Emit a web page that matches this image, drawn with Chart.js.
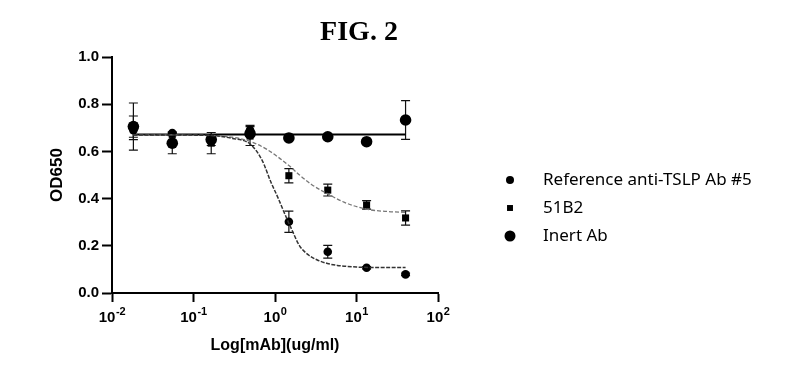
<!DOCTYPE html>
<html lang="en">
<head>
  <meta charset="UTF-8">
  <title>FIG. 2</title>
  <style>
    html, body { margin: 0; padding: 0; background: #fff; }
    .chart-container { position: relative; width: 793px; height: 373px; }
  </style>
</head>
<body>
  <div class="chart-container">
    <canvas id="figChart"></canvas>
  </div>

  <script src="https://cdn.jsdelivr.net/npm/chart.js"></script>
  <script>
    // concentrations (ug/ml), 3-fold dilution
    const concentrations = [0.0183, 0.0549, 0.165, 0.494, 1.48, 4.44, 13.3, 40];

    // measured OD650 means and error bar half-widths
    const refAbMeans  = [0.690, 0.678, 0.645, 0.690, 0.302, 0.175, 0.107, 0.079];
    const refAbErrors = [0.030, 0.005, 0.020, 0.020, 0.045, 0.027, 0.005, 0.005];
    const b51Means    = [0.700, 0.672, 0.635, 0.665, 0.497, 0.436, 0.373, 0.318];
    const b51Errors   = [0.050, 0.005, 0.045, 0.040, 0.030, 0.025, 0.018, 0.030];
    const inertMeans  = [0.705, 0.635, 0.650, 0.675, 0.657, 0.662, 0.641, 0.733];
    const inertErrors = [0.100, 0.045, 0.010, 0.010, 0.005, 0.005, 0.010, 0.082];

    // fitted curves
    const refFitX = [0.0183, 0.1, 0.2, 0.3, 0.5, 0.7, 0.89, 1.1, 1.3, 1.6, 2.0, 2.6, 3.3, 4.4, 5.8, 10, 20, 40];
    const refFitY = [0.670, 0.669, 0.665, 0.655, 0.630, 0.560, 0.470, 0.400, 0.340, 0.270, 0.200, 0.160, 0.140, 0.125, 0.117, 0.110, 0.108, 0.108];
    const b51FitX = [0.0183, 0.1, 0.3, 0.5, 0.8, 1.1, 1.48, 2.0, 2.8, 4.44, 7, 13.3, 25, 40];
    const b51FitY = [0.670, 0.669, 0.660, 0.642, 0.608, 0.575, 0.540, 0.500, 0.460, 0.420, 0.385, 0.355, 0.345, 0.342];
    const inertFitX = [0.0183, 40];
    const inertFitY = [0.672, 0.672];

    const xTicks = [0.01, 0.1, 1, 10, 100];
    const xTickExponents = ['-2', '-1', '0', '1', '2'];

    const legendLabels = ['Reference anti-TSLP Ab #5', '51B2', 'Inert Ab'];

    const toPoints = (xs, ys) => xs.map((x, i) => ({ x: x, y: ys[i] }));
    const axisFont = '"Liberation Sans", Arial, sans-serif';

    // error bars drawn through the chart scales
    const errorBarPlugin = {
      id: 'errorBars',
      beforeDatasetsDraw(chart) {
        const ctx = chart.ctx;
        const xs = chart.scales.x;
        const ys = chart.scales.y;
        ctx.save();
        ctx.strokeStyle = '#111';
        ctx.lineWidth = 1.2;
        chart.data.datasets.forEach(ds => {
          if (!ds.errors) return;
          ds.data.forEach((p, i) => {
            const px = xs.getPixelForValue(p.x);
            const top = ys.getPixelForValue(p.y + ds.errors[i]);
            const bot = ys.getPixelForValue(p.y - ds.errors[i]);
            ctx.beginPath();
            ctx.moveTo(px, top); ctx.lineTo(px, bot);
            ctx.moveTo(px - 4.5, top); ctx.lineTo(px + 4.5, top);
            ctx.moveTo(px - 4.5, bot); ctx.lineTo(px + 4.5, bot);
            ctx.stroke();
          });
        });
        ctx.restore();
      }
    };

    // power-of-ten tick labels, title and side legend
    const figurePlugin = {
      id: 'figureText',
      afterDraw(chart) {
        const ctx = chart.ctx;
        const xs = chart.scales.x;
        ctx.save();
        ctx.fillStyle = '#000';

        ctx.textBaseline = 'alphabetic';
        xTicks.forEach((v, i) => {
          const px = xs.getPixelForValue(v);
          ctx.font = 'bold 15px ' + axisFont;
          const baseW = ctx.measureText('10').width;
          ctx.font = 'bold 11px ' + axisFont;
          const expW = ctx.measureText(xTickExponents[i]).width;
          const startX = px - (baseW + expW) / 2;
          ctx.textAlign = 'left';
          ctx.font = 'bold 15px ' + axisFont;
          ctx.fillText('10', startX, xs.top + 29);
          ctx.font = 'bold 11px ' + axisFont;
          ctx.fillText(xTickExponents[i], startX + baseW + 0.5, xs.top + 22);
        });

        ctx.font = 'bold 28px "Liberation Serif", "Times New Roman", serif';
        ctx.textAlign = 'center';
        ctx.textBaseline = 'middle';
        ctx.fillText('FIG. 2', 359, 33);

        const rows = [180, 208, 236];
        const markers = [
          { style: 'circle', radius: 4 },
          { style: 'rect', radius: 4.2 },
          { style: 'circle', radius: 5.5 }
        ];
        ctx.font = '17px "Noto Sans", "Open Sans", sans-serif';
        ctx.textAlign = 'left';
        rows.forEach((y, i) => {
          Chart.helpers.drawPoint(ctx, {
            pointStyle: markers[i].style,
            radius: markers[i].radius,
            borderWidth: 0,
            rotation: 0
          }, 510, y);
          ctx.fillText(legendLabels[i], 543, y);
        });
        ctx.restore();
      }
    };

    const markerOpts = (style, radius) => ({
      showLine: false,
      pointStyle: style,
      pointRadius: radius,
      pointHoverRadius: radius,
      pointBackgroundColor: '#000',
      pointBorderColor: '#000',
      pointBorderWidth: 0
    });

    const ctx = document.getElementById('figChart').getContext('2d');
    const figChart = new Chart(ctx, {
      type: 'scatter',
      data: {
        datasets: [
          {
            label: 'Reference fit',
            data: toPoints(refFitX, refFitY),
            showLine: true,
            borderColor: '#333',
            borderWidth: 1.5,
            borderDash: [4, 1.5],
            pointRadius: 0,
            cubicInterpolationMode: 'monotone'
          },
          {
            label: '51B2 fit',
            data: toPoints(b51FitX, b51FitY),
            showLine: true,
            borderColor: '#777',
            borderWidth: 1.3,
            borderDash: [4, 2],
            pointRadius: 0,
            cubicInterpolationMode: 'monotone'
          },
          {
            label: 'Inert fit',
            data: toPoints(inertFitX, inertFitY),
            showLine: true,
            borderColor: '#000',
            borderWidth: 2,
            pointRadius: 0
          },
          Object.assign({
            label: legendLabels[0],
            data: toPoints(concentrations, refAbMeans),
            errors: refAbErrors
          }, markerOpts('circle', 4.3)),
          Object.assign({
            label: legendLabels[1],
            data: toPoints(concentrations, b51Means),
            errors: b51Errors
          }, markerOpts('rect', 5)),
          Object.assign({
            label: legendLabels[2],
            data: toPoints(concentrations, inertMeans),
            errors: inertErrors
          }, markerOpts('circle', 5.8))
        ]
      },
      options: {
        responsive: true,
        maintainAspectRatio: false,
        animation: false,
        layout: {
          padding: { top: 57, right: 355, bottom: 0, left: 0 }
        },
        plugins: {
          legend: { display: false },
          tooltip: { enabled: false }
        },
        scales: {
          x: {
            type: 'logarithmic',
            min: 0.01,
            max: 100,
            afterBuildTicks: scale => {
              scale.ticks = xTicks.map(v => ({ value: v }));
            },
            afterFit: scale => { scale.height = 80; },
            border: { color: '#000', width: 2 },
            grid: {
              drawOnChartArea: false,
              tickLength: 9,
              tickWidth: 2,
              tickColor: '#000'
            },
            ticks: {
              color: '#000',
              padding: 4,
              maxRotation: 0,
              font: { family: axisFont, size: 15, weight: 'bold' },
              // labels are drawn as 10 with a raised exponent by figurePlugin
              callback: () => ''
            },
            title: {
              display: true,
              text: 'Log[mAb](ug/ml)',
              color: '#000',
              font: { family: axisFont, size: 16, weight: 'bold' },
              padding: { top: 4, bottom: 18 }
            }
          },
          y: {
            min: 0,
            max: 1.0,
            afterFit: scale => { scale.width = 112; },
            border: { color: '#000', width: 2 },
            grid: {
              drawOnChartArea: false,
              tickLength: 10,
              tickWidth: 2,
              tickColor: '#000'
            },
            ticks: {
              stepSize: 0.2,
              color: '#000',
              padding: 3,
              font: { family: axisFont, size: 15, weight: 'bold' },
              callback: value => value.toFixed(1)
            },
            title: {
              display: true,
              text: 'OD650',
              color: '#000',
              font: { family: axisFont, size: 17, weight: 'bold' },
              padding: { top: 47, bottom: 0 }
            }
          }
        }
      },
      plugins: [errorBarPlugin, figurePlugin]
    });
  </script>
</body>
</html>
